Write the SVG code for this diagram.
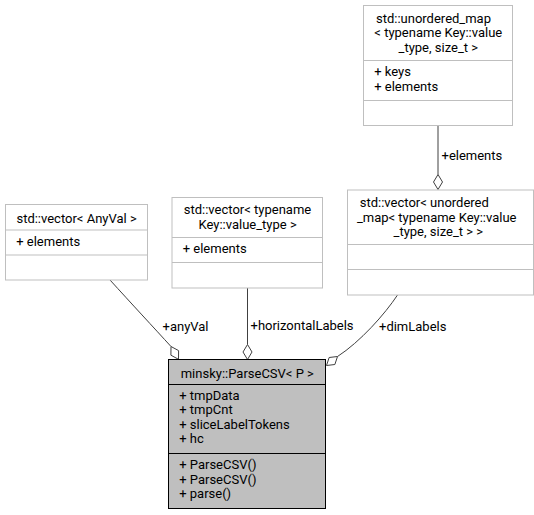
<svg xmlns="http://www.w3.org/2000/svg" width="534" height="515" viewBox="0 0 534 515">
<style>
text{font-family:Roboto,"Liberation Sans",sans-serif;font-size:13px;fill:#000}
.c{text-anchor:middle}
.box{fill:#fff;stroke:#bfbfbf;stroke-width:1}
.main{fill:#bfbfbf;stroke:#000;stroke-width:1}
.sep{stroke:#bfbfbf;stroke-width:1}
.msep{stroke:#000;stroke-width:1}
.edge{fill:none;stroke:#404040;stroke-width:1}
.dia{fill:#fff;stroke:#404040;stroke-width:1}
</style>
<rect width="534" height="515" fill="#fff"/>
<g id="connectors">
<line class="edge" x1="438" y1="125.5" x2="438" y2="174.5"/>
<polygon class="dia" points="438,189.5 442.5,182 438,174.5 433.5,182"/>
<text x="441.5" y="160">+elements</text>
<line class="edge" x1="247.5" y1="288" x2="247.5" y2="344.5"/>
<polygon class="dia" points="247.5,359.5 252,352 247.5,344.5 243,352"/>
<text x="250.5" y="330">+horizontalLabels</text>
<path class="edge" d="M110,280 C130,302 155,329 171,346.5"/>
<polygon class="dia" points="178.5,359.3 178.6,350.6 171,346.5 170.9,355.2"/>
<text x="162.5" y="330.5">+anyVal</text>
<path class="edge" d="M397.5,295 C385,314 360,342 337.5,356.5"/>
<polygon class="dia" points="326.5,365.5 334.85,364.5 337.5,356.5 329.15,357.5"/>
<text x="379" y="331">+dimLabels</text>
</g>
<g id="node-unordered-map">
<rect class="box" x="363.5" y="5.5" width="149" height="120"/>
<line class="sep" x1="363.5" y1="60.5" x2="512.5" y2="60.5"/>
<line class="sep" x1="363.5" y1="100.5" x2="512.5" y2="100.5"/>
<text class="c" x="433.5" y="22.5">std::unordered_map</text>
<text class="c" x="438.3" y="37">&lt; typename Key::value</text>
<text class="c" x="438.3" y="51.5">_type, size_t &gt;</text>
<text x="374.2" y="76">+ keys</text>
<text x="374.2" y="90.5">+ elements</text>
</g>
<g id="node-vector-unordered-map">
<rect class="box" x="347.5" y="190" width="186" height="105"/>
<line class="sep" x1="347.5" y1="244.5" x2="533.5" y2="244.5"/>
<line class="sep" x1="347.5" y1="269.5" x2="533.5" y2="269.5"/>
<text class="c" x="424.3" y="207">std::vector&lt; unordered</text>
<text class="c" x="436.7" y="221.5">_map&lt; typename Key::value</text>
<text class="c" x="438.3" y="236">_type, size_t &gt; &gt;</text>
</g>
<g id="node-vector-anyval">
<rect class="box" x="5.5" y="204.5" width="142" height="75.5"/>
<line class="sep" x1="5.5" y1="230" x2="147.5" y2="230"/>
<line class="sep" x1="5.5" y1="255" x2="147.5" y2="255"/>
<text class="c" x="76.6" y="222.5">std::vector&lt; AnyVal &gt;</text>
<text x="16.2" y="245.5">+ elements</text>
</g>
<g id="node-vector-value-type">
<rect class="box" x="172" y="197.5" width="150.5" height="90.5"/>
<line class="sep" x1="172" y1="237.5" x2="322.5" y2="237.5"/>
<line class="sep" x1="172" y1="262.5" x2="322.5" y2="262.5"/>
<text class="c" x="247.5" y="214">std::vector&lt; typename</text>
<text class="c" x="247.6" y="228.5">Key::value_type &gt;</text>
<text x="182.7" y="253">+ elements</text>
</g>
<g id="node-parsecsv">
<rect class="main" x="168.5" y="359.5" width="157" height="149"/>
<line class="msep" x1="168.5" y1="384.5" x2="325.5" y2="384.5"/>
<line class="msep" x1="168.5" y1="453.5" x2="325.5" y2="453.5"/>
<text class="c" x="247.3" y="377.5">minsky::ParseCSV&lt; P &gt;</text>
<text x="179.2" y="399.5">+ tmpData</text>
<text x="179.2" y="414">+ tmpCnt</text>
<text x="179.2" y="428.5">+ sliceLabelTokens</text>
<text x="179.2" y="443">+ hc</text>
<text x="179.2" y="469">+ ParseCSV()</text>
<text x="179.2" y="483.5">+ ParseCSV()</text>
<text x="179.2" y="498">+ parse()</text>
</g>
</svg>
